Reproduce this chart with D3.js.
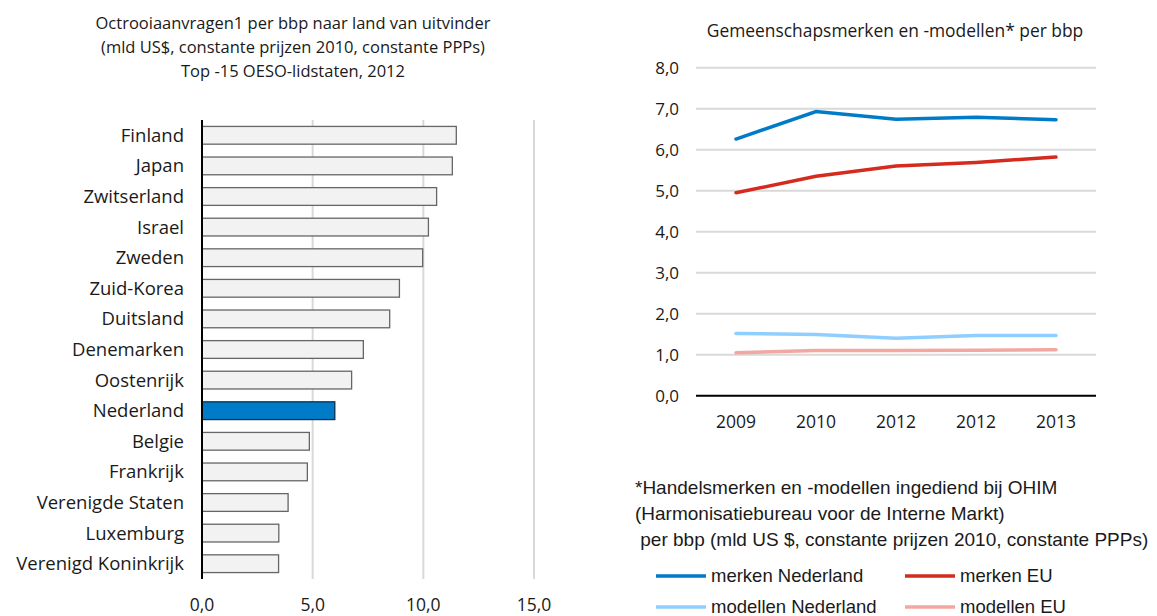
<!DOCTYPE html>
<html>
<head>
<meta charset="utf-8">
<script src="https://cdn.jsdelivr.net/npm/d3@7"></script>
<style>
  body { margin: 0; background: #fff; }
  svg text { font-family: "Open Sans", "Noto Sans", sans-serif; fill: #1a1a1a; }
  .note text { font-family: "Liberation Sans", Arial, sans-serif; }
</style>
</head>
<body>
<svg id="chart" width="1157" height="616"></svg>
<script>
// left chart data
var countries = ['Finland', 'Japan', 'Zwitserland', 'Israel', 'Zweden', 'Zuid-Korea', 'Duitsland',
  'Denemarken', 'Oostenrijk', 'Nederland', 'Belgie', 'Frankrijk', 'Verenigde Staten', 'Luxemburg',
  'Verenigd Koninkrijk']
var patentValues = [11.49, 11.31, 10.6, 10.23, 9.97, 8.92, 8.48, 7.29, 6.76, 6.0, 4.85, 4.76, 3.89, 3.47, 3.46]
var barTicks = [0, 5, 10, 15]

// right chart data
var years = ['2009', '2010', '2012', '2012', '2013']
var merkenNL = [6.26, 6.93, 6.74, 6.79, 6.73]
var merkenEU = [4.95, 5.35, 5.6, 5.69, 5.82]
var modellenNL = [1.52, 1.49, 1.4, 1.47, 1.47]
var modellenEU = [1.05, 1.1, 1.1, 1.11, 1.12]
var lineTicks = [0, 1, 2, 3, 4, 5, 6, 7, 8]

var seriesNames = ['merken Nederland', 'merken EU', 'modellen Nederland', 'modellen EU']
var seriesColors = ['#007bc7', '#d52b1e', '#8fcfff', '#f2a8a1']

var fmt = function (d) { return d3.format('.1f')(d).replace('.', ',') }

var svg = d3.select('#chart')

/* ---------- bar chart ---------- */
var x = d3.scaleLinear().domain([0, 15]).range([202, 534])
var y = d3.scaleBand().domain(countries).range([120, 579]).paddingInner(0.42).paddingOuter(0.21)

var left = svg.append('g')

var title1 = ['Octrooiaanvragen1 per bbp naar land van uitvinder',
  '(mld US$, constante prijzen 2010, constante PPPs)',
  'Top -15 OESO-lidstaten, 2012']
left.selectAll('.title')
  .data(title1).enter()
  .append('text')
  .attr('x', 293)
  .attr('y', function (d, i) { return 29 + i * 24 })
  .attr('text-anchor', 'middle')
  .style('font-size', '16.5px')
  .text(function (d) { return d })

left.selectAll('.grid')
  .data(barTicks.slice(1)).enter()
  .append('line')
  .attr('x1', function (d) { return x(d) })
  .attr('x2', function (d) { return x(d) })
  .attr('y1', 120)
  .attr('y2', 579)
  .attr('stroke', '#d9d9d9')
  .attr('stroke-width', 2)

left.selectAll('.bar')
  .data(countries).enter()
  .append('rect')
  .attr('x', x(0))
  .attr('y', function (d) { return y(d) })
  .attr('width', function (d, i) { return x(patentValues[i]) - x(0) })
  .attr('height', y.bandwidth())
  .attr('fill', function (d) { return d === 'Nederland' ? '#007bc7' : '#f2f2f2' })
  .attr('stroke', function (d) { return d === 'Nederland' ? '#0b3050' : '#666' })
  .attr('stroke-width', 1.3)

left.append('line')
  .attr('x1', x(0)).attr('x2', x(0))
  .attr('y1', 120).attr('y2', 579)
  .attr('stroke', '#000').attr('stroke-width', 2)

left.selectAll('.cat')
  .data(countries).enter()
  .append('text')
  .attr('x', 184)
  .attr('y', function (d) { return y(d) + y.bandwidth() / 2 })
  .attr('dy', '0.35em')
  .attr('text-anchor', 'end')
  .style('font-size', '18.5px')
  .text(function (d) { return d })

left.selectAll('.xt')
  .data(barTicks).enter()
  .append('text')
  .attr('x', function (d) { return x(d) })
  .attr('y', 611)
  .attr('text-anchor', 'middle')
  .style('font-size', '17.5px')
  .text(fmt)

/* ---------- line chart ---------- */
var xl = d3.scaleBand().domain(d3.range(years.length)).range([696, 1096])
var yl = d3.scaleLinear().domain([0, 8]).range([395.7, 67.7])

var right = svg.append('g')

right.append('text')
  .attr('x', 895)
  .attr('y', 37)
  .attr('text-anchor', 'middle')
  .style('font-size', '17.4px')
  .text('Gemeenschapsmerken en -modellen* per bbp')

right.selectAll('.grid')
  .data(lineTicks.slice(1)).enter()
  .append('line')
  .attr('x1', 696).attr('x2', 1096)
  .attr('y1', function (d) { return yl(d) })
  .attr('y2', function (d) { return yl(d) })
  .attr('stroke', '#d9d9d9')
  .attr('stroke-width', 2)

right.append('line')
  .attr('x1', 696).attr('x2', 1096)
  .attr('y1', yl(0)).attr('y2', yl(0))
  .attr('stroke', '#000').attr('stroke-width', 2)

right.selectAll('.yt')
  .data(lineTicks).enter()
  .append('text')
  .attr('x', 679)
  .attr('y', function (d) { return yl(d) })
  .attr('dy', '0.35em')
  .attr('text-anchor', 'end')
  .style('font-size', '17px')
  .text(fmt)

right.selectAll('.xt')
  .data(years).enter()
  .append('text')
  .attr('x', function (d, i) { return xl(i) + xl.bandwidth() / 2 })
  .attr('y', 428)
  .attr('text-anchor', 'middle')
  .style('font-size', '17.5px')
  .text(function (d) { return d })

var allSeries = [merkenNL, merkenEU, modellenNL, modellenEU]
var line = d3.line()
  .x(function (d, i) { return xl(i) + xl.bandwidth() / 2 })
  .y(function (d) { return yl(d) })

// draw the light lines first, like the original
right.selectAll('.series')
  .data([3, 2, 1, 0]).enter()
  .append('path')
  .attr('d', function (k) { return line(allSeries[k]) })
  .attr('fill', 'none')
  .attr('stroke', function (k) { return seriesColors[k] })
  .attr('stroke-width', 3.5)
  .attr('stroke-linecap', 'round')

/* ---------- footnote + legend ---------- */
var note = svg.append('g').attr('class', 'note')
var noteLines = ['*Handelsmerken en -modellen ingediend bij OHIM',
  '(Harmonisatiebureau voor de Interne Markt)',
  ' per bbp (mld US $, constante prijzen 2010, constante PPPs)']
note.selectAll('.nl')
  .data(noteLines).enter()
  .append('text')
  .attr('x', 635)
  .attr('y', function (d, i) { return 494 + i * 26 })
  .attr('xml:space', 'preserve')
  .style('font-size', '19px')
  .text(function (d) { return d })

var legend = note.selectAll('.lg')
  .data(seriesNames).enter()
  .append('g')
  .attr('transform', function (d, i) {
    return 'translate(' + (i % 2 === 0 ? 656 : 905) + ',' + (576 + Math.floor(i / 2) * 31) + ')'
  })
legend.append('line')
  .attr('x1', 0).attr('x2', 50)
  .attr('stroke', function (d, i) { return seriesColors[i] })
  .attr('stroke-width', 3.5)
legend.append('text')
  .attr('x', 55)
  .attr('dy', '0.35em')
  .style('font-size', '18.5px')
  .text(function (d) { return d })
</script>
</body>
</html>
